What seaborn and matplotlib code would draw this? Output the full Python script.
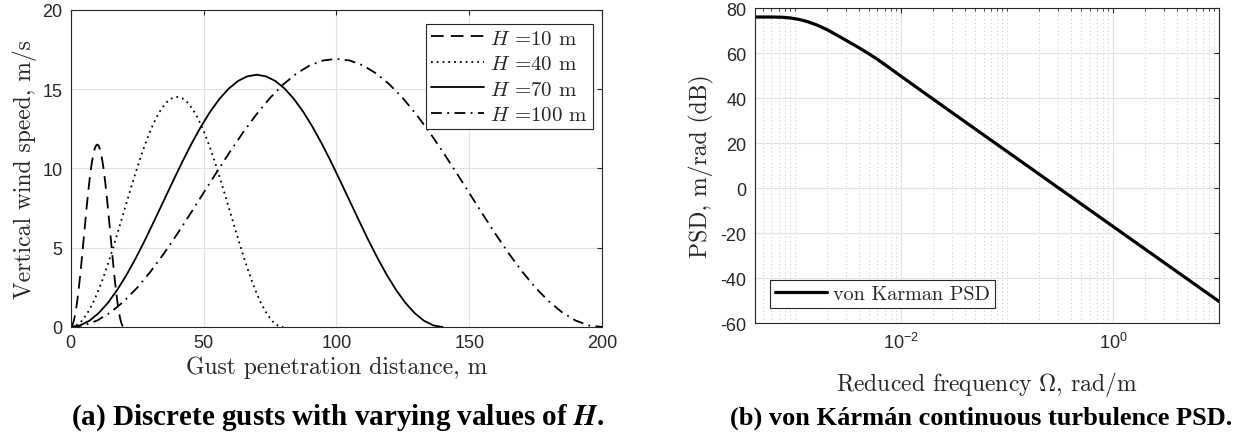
import matplotlib
matplotlib.use("Agg")
import matplotlib.pyplot as plt
import numpy as np
import pandas as pd
import seaborn as sns
from matplotlib.ticker import FixedLocator, FixedFormatter, NullFormatter

# ---- discrete 1-cosine gust profiles (distance in m, vertical speed in m/s) ----
gust_labels = ["$H$ =10 m", "$H$ =40 m", "$H$ =70 m", "$H$ =100 m"]

dist_h10 = [0, 0.5, 1, 1.5, 2, 2.5, 3, 3.5, 4, 4.5, 5, 5.5, 6, 6.5, 7, 7.5, 8, 8.5, 9, 9.5, 10,
            10.5, 11, 11.5, 12, 12.5, 13, 13.5, 14, 14.5, 15, 15.5, 16, 16.5, 17, 17.5, 18,
            18.5, 19, 19.5, 20]
speed_h10 = [0, 0.07, 0.28, 0.63, 1.10, 1.68, 2.37, 3.14, 3.97, 4.85, 5.75, 6.65, 7.53, 8.36,
             9.13, 9.82, 10.40, 10.87, 11.22, 11.43, 11.50, 11.43, 11.22, 10.87, 10.40, 9.82,
             9.13, 8.36, 7.53, 6.65, 5.75, 4.85, 3.97, 3.14, 2.37, 1.68, 1.10, 0.63, 0.28,
             0.07, 0]

dist_h40 = [0, 2, 4, 6, 8, 10, 12, 14, 16, 18, 20, 22, 24, 26, 28, 30, 32, 34, 36, 38, 40,
            42, 44, 46, 48, 50, 52, 54, 56, 58, 60, 62, 64, 66, 68, 70, 72, 74, 76, 78, 80]
speed_h40 = [0, 0.09, 0.35, 0.79, 1.38, 2.12, 2.99, 3.96, 5.01, 6.12, 7.25, 8.38, 9.49, 10.54,
             11.51, 12.38, 13.12, 13.71, 14.15, 14.41, 14.50, 14.41, 14.15, 13.71, 13.12, 12.38,
             11.51, 10.54, 9.49, 8.38, 7.25, 6.12, 5.01, 3.96, 2.99, 2.12, 1.38, 0.79, 0.35,
             0.09, 0]

dist_h70 = [0, 3.5, 7, 10.5, 14, 17.5, 21, 24.5, 28, 31.5, 35, 38.5, 42, 45.5, 49, 52.5, 56,
            59.5, 63, 66.5, 70, 73.5, 77, 80.5, 84, 87.5, 91, 94.5, 98, 101.5, 105, 108.5, 112,
            115.5, 119, 122.5, 126, 129.5, 133, 136.5, 140]
speed_h70 = [0, 0.10, 0.39, 0.87, 1.52, 2.33, 3.28, 4.34, 5.49, 6.71, 7.95, 9.19, 10.41, 11.56,
             12.62, 13.57, 14.38, 15.03, 15.51, 15.80, 15.90, 15.80, 15.51, 15.03, 14.38, 13.57,
             12.62, 11.56, 10.41, 9.19, 7.95, 6.71, 5.49, 4.34, 3.28, 2.33, 1.52, 0.87, 0.39,
             0.10, 0]

dist_h100 = [0, 5, 10, 15, 20, 25, 30, 35, 40, 45, 50, 55, 60, 65, 70, 75, 80, 85, 90, 95, 100,
             105, 110, 115, 120, 125, 130, 135, 140, 145, 150, 155, 160, 165, 170, 175, 180, 185,
             190, 195, 200]
speed_h100 = [0, 0.10, 0.41, 0.92, 1.61, 2.47, 3.48, 4.61, 5.84, 7.13, 8.45, 9.77, 11.06, 12.29,
              13.42, 14.43, 15.29, 15.98, 16.49, 16.80, 16.90, 16.80, 16.49, 15.98, 15.29, 14.43,
              13.42, 12.29, 11.06, 9.77, 8.45, 7.13, 5.84, 4.61, 3.48, 2.47, 1.61, 0.92, 0.41,
              0.10, 0]

# ---- von Karman PSD (reduced frequency in rad/m, PSD in dB) ----
omega = [4.2e-4, 6e-4, 7.5e-4, 9e-4, 1.1e-3, 1.3e-3, 1.6e-3, 2e-3, 2.5e-3, 3.2e-3, 4e-3,
         5e-3, 6e-3, 8e-3, 1e-2, 2e-2, 5e-2, 1e-1, 3e-1, 1.0, 3.0, 10.0]
psd_db = [76.0, 76.0, 75.9, 75.6, 74.9, 74.0, 72.5, 70.4, 67.9, 65.0, 62.4,
          59.6, 57.2, 53.0, 49.7, 39.6, 26.3, 16.3, 0.4, -17.0, -32.9, -50.3]

x_ticks_a = [0, 50, 100, 150, 200]
y_ticks_a = [0, 5, 10, 15, 20]
y_ticks_b = [-60, -40, -20, 0, 20, 40, 60, 80]
x_ticks_b = [1e-2, 1e0]
x_ticklabels_b = [r"$10^{-2}$", r"$10^{0}$"]

gust_df = pd.concat([
    pd.DataFrame({"distance": d, "speed": v, "gust": lab})
    for d, v, lab in zip([dist_h10, dist_h40, dist_h70, dist_h100],
                         [speed_h10, speed_h40, speed_h70, speed_h100],
                         gust_labels)
], ignore_index=True)
psd_df = pd.DataFrame({"omega": omega, "psd": psd_db})

sns.set_theme(style="white")
ink = "#262626"
cm_text = ["cmr10", "DejaVu Serif"]
plt.rcParams.update({
    "font.family": ["Liberation Sans", "DejaVu Sans"],
    "mathtext.fontset": "custom",
    "mathtext.rm": "Liberation Sans",
    "mathtext.it": "Liberation Sans:italic",
    "mathtext.bf": "Liberation Sans:bold",
    "axes.unicode_minus": False,
    "axes.edgecolor": ink,
    "axes.linewidth": 0.8,
    "xtick.direction": "in",
    "ytick.direction": "in",
    "xtick.top": True,
    "ytick.right": True,
    "xtick.color": ink,
    "ytick.color": ink,
    "xtick.labelcolor": ink,
    "ytick.labelcolor": ink,
    "xtick.major.size": 3.6,
    "ytick.major.size": 3.6,
    "xtick.minor.size": 2.2,
    "ytick.minor.size": 2.2,
    "xtick.major.width": 0.8,
    "ytick.major.width": 0.8,
    "xtick.minor.width": 0.6,
    "xtick.labelsize": 13,
    "ytick.labelsize": 13,
})

fig = plt.figure(figsize=(12.38, 4.35), dpi=100)
ax1 = fig.add_axes([0.0571, 0.246, 0.4292, 0.7294])
ax2 = fig.add_axes([0.6099, 0.2545, 0.3748, 0.7248])

# ---- panel (a) ----
dash_styles = {
    gust_labels[0]: (7, 4),
    gust_labels[1]: (1, 2.2),
    gust_labels[2]: "",
    gust_labels[3]: (6, 3, 1, 3),
}
sns.lineplot(data=gust_df, x="distance", y="speed", style="gust",
             style_order=gust_labels, dashes=dash_styles, color="black",
             linewidth=1.3, estimator=None, sort=False, legend=False, ax=ax1)
ax1.set_xlim(0, 200)
ax1.set_ylim(0, 20)
ax1.set_xticks(x_ticks_a)
ax1.set_yticks(y_ticks_a)
ax1.grid(True, color="#e2e2e2", linewidth=0.8)
ax1.set_axisbelow(True)
ax1.tick_params(axis="x", pad=5)
ax1.tick_params(axis="y", pad=6)
ax1.set_xlabel("Gust penetration distance, m", fontsize=17, family=cm_text, color=ink)
ax1.set_ylabel("Vertical wind speed, m/s", fontsize=17, family=cm_text, color=ink)
ax1.xaxis.set_label_coords(0.5, -0.09)
ax1.yaxis.set_label_coords(-0.064, 0.5)

leg1 = ax1.legend(ax1.lines[:4], gust_labels, loc="upper right",
                  bbox_to_anchor=(0.983, 0.955), frameon=True,
                  prop={"family": cm_text, "size": 15},
                  fancybox=False, edgecolor=ink, framealpha=1,
                  handlelength=2.55, handletextpad=0.3, labelspacing=0.33,
                  borderpad=0.25, borderaxespad=0)
leg1.get_frame().set_linewidth(0.8)
for t in leg1.get_texts():
    t.set_math_fontfamily("cm")

# ---- panel (b) ----
sns.lineplot(data=psd_df, x="omega", y="psd", color="black", linewidth=2.3,
             estimator=None, sort=False, ax=ax2, label="von Karman PSD")
ax2.set_xscale("log")
ax2.set_xlim(4.2e-4, 10)
ax2.set_ylim(-60, 80)
ax2.set_yticks(y_ticks_b)
ax2.xaxis.set_major_locator(FixedLocator(x_ticks_b))
ax2.xaxis.set_major_formatter(FixedFormatter(x_ticklabels_b))
minor_locs = [k * 10.0 ** e for e in range(-4, 2) for k in range(1, 10)
              if not any(np.isclose(k * 10.0 ** e, m) for m in x_ticks_b)]
ax2.xaxis.set_minor_locator(FixedLocator(minor_locs))
ax2.xaxis.set_minor_formatter(NullFormatter())
ax2.grid(True, which="major", color="#e2e2e2", linewidth=0.8)
ax2.grid(True, which="minor", axis="x", color="#c4c4c4", linewidth=0.7,
         linestyle=(0, (1, 3)))
ax2.set_axisbelow(True)
ax2.tick_params(axis="x", pad=6)
ax2.tick_params(axis="y", pad=6)
ax2.set_xlabel(r"Reduced frequency $\Omega$, rad/m", fontsize=17, family=cm_text,
               math_fontfamily="cm", color=ink)
ax2.set_ylabel("PSD, m/rad (dB)", fontsize=17, family=cm_text, color=ink)
ax2.xaxis.set_label_coords(0.5, -0.145)
ax2.yaxis.set_label_coords(-0.088, 0.5)

leg2 = ax2.legend(loc="lower left", bbox_to_anchor=(0.032, 0.0485),
                  prop={"family": cm_text, "size": 14.5},
                  frameon=True, fancybox=False, edgecolor=ink, framealpha=1,
                  handlelength=2.6, handletextpad=0.3, borderpad=0.25,
                  borderaxespad=0)
leg2.get_frame().set_linewidth(0.8)

# ---- captions ----
fig.text(0.273, 0.039, r"(a) Discrete gusts with varying values of $\mathbfit{H}$.",
         ha="center", va="center", fontsize=21, fontweight="bold",
         family=["Liberation Serif", "DejaVu Serif"], math_fontfamily="stix",
         color="black")
fig.text(0.7925, 0.039, "(b) von Kármán continuous turbulence PSD.",
         ha="center", va="center", fontsize=19, fontweight="bold",
         family=["Liberation Serif", "DejaVu Serif"], color="black")

fig.savefig("out.png", dpi=100, facecolor="white")
